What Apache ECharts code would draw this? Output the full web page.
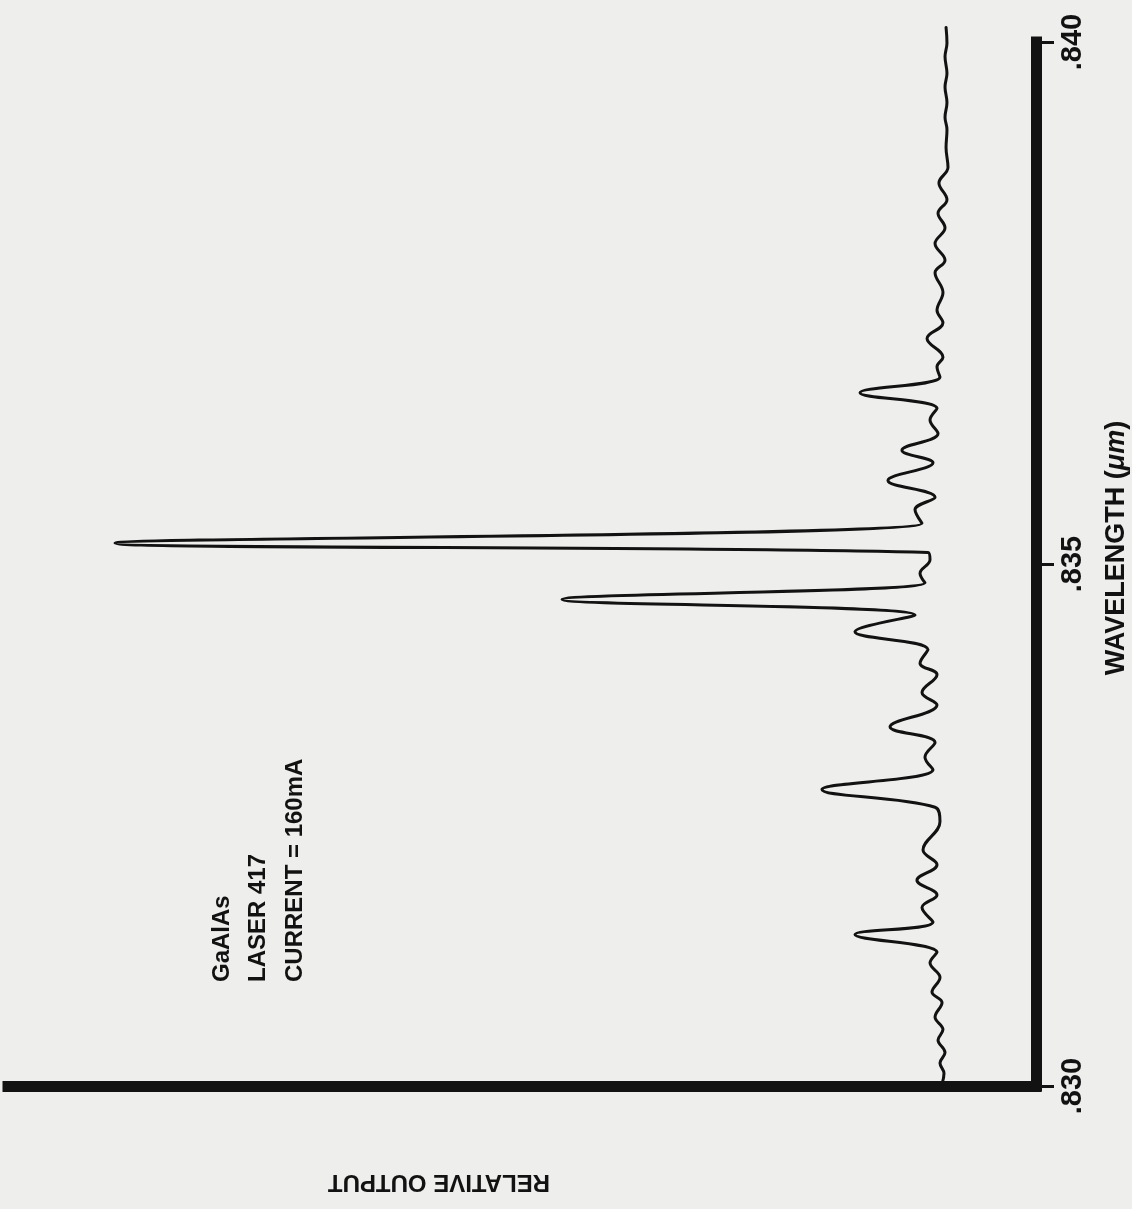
<!DOCTYPE html>
<html>
<head>
<meta charset="utf-8">
<script src="https://cdn.jsdelivr.net/npm/echarts@6/dist/echarts.min.js"></script>
<style>
  html, body { margin: 0; padding: 0; background: #eeeeec; }
  #chart { width: 1132px; height: 1209px; }
</style>
</head>
<body>
<div id="chart"></div>
<script>
// GaAlAs laser 417 emission spectrum, traced along increasing wavelength
const wavelength = [
  0.83002, 0.83012, 0.83022, 0.83032, 0.83044, 0.83054, 0.83066, 0.83080, 0.83090, 0.83104,
  0.83118, 0.83128, 0.83145, 0.83157, 0.83171, 0.83183, 0.83197, 0.83212, 0.83226, 0.83253,
  0.83267, 0.83284, 0.83303, 0.83315, 0.83329, 0.83344, 0.83365, 0.83377, 0.83394, 0.83405,
  0.83418, 0.83435, 0.83451, 0.83466, 0.83482, 0.83491, 0.83504, 0.83511, 0.83520, 0.83539,
  0.83552, 0.83564, 0.83580, 0.83597, 0.83609, 0.83625, 0.83638, 0.83649, 0.83664, 0.83679,
  0.83689, 0.83698, 0.83716, 0.83731, 0.83743, 0.83760, 0.83779, 0.83791, 0.83807, 0.83822,
  0.83836, 0.83849, 0.83865, 0.83880, 0.83899, 0.83916, 0.83928, 0.83942, 0.83957, 0.83970,
  0.83986, 0.83999, 0.84014
];
const relativeOutput = [
  9.14, 8.95, 9.34, 8.85, 9.53, 9.05, 9.82, 9.14, 10.12, 9.34,
  10.31, 9.63, 17.61, 10.02, 11.09, 9.63, 11.58, 9.63, 10.99, 9.34,
  9.82, 20.82, 10.02, 10.80, 9.82, 14.20, 9.63, 11.09, 9.63, 11.28,
  10.51, 17.61, 11.77, 46.11, 10.80, 11.28, 10.31, 10.51, 89.59, 11.09,
  11.77, 9.82, 14.40, 10.02, 13.04, 9.53, 10.31, 9.63, 17.12, 9.34,
  9.63, 9.05, 10.60, 9.05, 9.63, 9.05, 9.82, 8.85, 9.82, 8.85,
  9.53, 8.66, 9.44, 8.56, 8.75, 8.66, 8.85, 8.66, 8.85, 8.66,
  8.85, 8.66, 8.75
];
const wavelengthTicks = [0.830, 0.835, 0.840];
const annotationLines = ['GaAlAs', 'LASER 417', 'CURRENT = 160mA'];

const ink = '#121212';
const font = "'Liberation Sans', Arial, sans-serif";

const chart = echarts.init(document.getElementById('chart'), null, { renderer: 'canvas' });

const spectrum = wavelength.map((w, i) => [relativeOutput[i], w]);

const annotationX = [222, 258, 295];

chart.setOption({
  backgroundColor: '#eeeeec',
  animation: false,
  grid: { left: 8, right: 96, top: 42, bottom: 123 },
  xAxis: {
    type: 'value',
    min: 0,
    max: 100,
    inverse: true,
    axisLine: { show: true, lineStyle: { color: ink, width: 11, cap: 'square' } },
    axisTick: { show: false },
    axisLabel: { show: false },
    splitLine: { show: false }
  },
  yAxis: {
    type: 'value',
    position: 'right',
    min: wavelengthTicks[0],
    max: wavelengthTicks[wavelengthTicks.length - 1],
    interval: 0.005,
    axisLine: { show: true, lineStyle: { color: ink, width: 11, cap: 'square' } },
    axisTick: { show: true, length: 18, lineStyle: { color: ink, width: 3 } },
    axisLabel: {
      show: true,
      rotate: 90,
      margin: 22,
      color: ink,
      fontFamily: font,
      fontWeight: 'bold',
      fontSize: 29,
      formatter: v => v.toFixed(3).replace(/^0/, '')
    },
    splitLine: { show: false }
  },
  series: [{
    type: 'line',
    data: spectrum,
    showSymbol: false,
    smooth: 0.4,
    clip: false,
    lineStyle: { color: ink, width: 3, join: 'round', cap: 'round' }
  }],
  graphic: [
    {
      type: 'text',
      x: 1117, y: 548,
      rotation: Math.PI / 2,
      style: {
        text: '{a|WAVELENGTH (}{b|μm}{a|)}',
        align: 'center',
        verticalAlign: 'middle',
        rich: {
          a: { fontFamily: font, fontWeight: 'bold', fontSize: 27, fill: ink },
          b: { fontFamily: font, fontWeight: 'bold', fontStyle: 'italic', fontSize: 27, fill: ink }
        }
      }
    },
    {
      type: 'text',
      x: 439, y: 1182,
      rotation: Math.PI,
      style: {
        text: 'RELATIVE OUTPUT',
        align: 'center',
        verticalAlign: 'middle',
        fontFamily: font, fontWeight: 'bold', fontSize: 24, fill: ink
      }
    }
  ].concat(annotationLines.map((t, i) => ({
    type: 'text',
    x: annotationX[i], y: 982,
    rotation: Math.PI / 2,
    style: {
      text: t,
      align: 'left',
      verticalAlign: 'middle',
      fontFamily: font, fontWeight: 'bold', fontSize: 24, fill: ink
    }
  })))
});
</script>
</body>
</html>
